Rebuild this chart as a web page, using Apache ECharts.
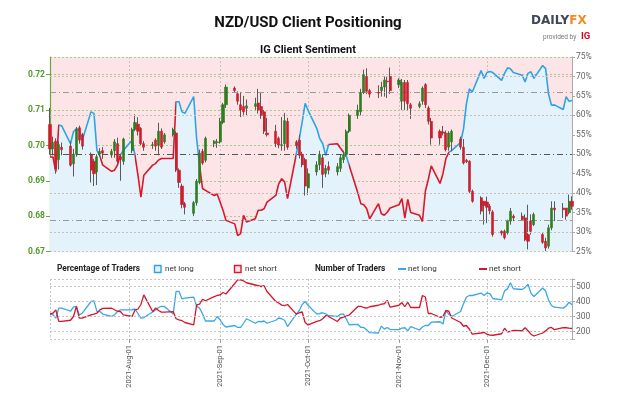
<!DOCTYPE html>
<html><head><meta charset="utf-8">
<script src="https://cdn.jsdelivr.net/npm/echarts@6/dist/echarts.min.js"></script>
<style>html,body{margin:0;padding:0;background:#fff}#c{width:624px;height:416px}</style>
</head><body><div id="c"></div>
<script>
// ---------------- DATA (one entry per trading day, Jul 5 – Dec 30 2021) ----------------
// candles: [open, close, low, high]
const candles = [
 // Jul
 [.7059,.6990,.6974,.7106],[.6990,.7008,.6972,.7025],[.7012,.6934,.6920,.7020],[.6960,.7002,.6932,.7012],[.6995,.6988,.6972,.7008],
 [.6998,.6944,.6940,.7010],[.6948,.6975,.6912,.6990],[.6975,.7045,.6968,.7052],[.7050,.7015,.7005,.7056],[.7030,.6998,.6988,.7035],
 [.6975,.6930,.6895,.6980],[.6955,.6920,.6885,.6962],[.6925,.6968,.6888,.6975],[.6975,.6983,.6968,.6992],[.6985,.6978,.6962,.6995],
 [.6973,.6983,.6965,.6990],[.6985,.7010,.6965,.7018],[.7005,.6955,.6946,.7022],[.6968,.6960,.6900,.6975],[.6955,.7018,.6945,.7022],
 // Aug
 [.6985,.7045,.6978,.7050],[.7045,.7065,.7040,.7088],[.7060,.7040,.7028,.7080],[.7048,.7005,.7000,.7052],[.7005,.6995,.6985,.7012],
 [.7000,.7002,.6990,.7010],[.7015,.6998,.6985,.7020],[.7000,.7040,.6972,.7064],[.7040,.6995,.6990,.7048],[.7010,.7030,.7005,.7035],
 [.7030,.7045,.7025,.7050],[.7035,.6930,.6925,.7040],[.6930,.6895,.6880,.6935],[.6885,.6833,.6822,.6892],[.6835,.6825,.6805,.6840],
 [.6808,.6838,.6800,.6843],[.6838,.6899,.6830,.6905],[.6895,.6978,.6890,.6988],[.6983,.6950,.6945,.6990],[.6958,.7020,.6952,.7025],
 [.7005,.7012,.6995,.7015],[.7008,.7010,.6993,.7018],
 // Sep
 [.7010,.7068,.7005,.7078],[.7065,.7115,.7060,.7120],[.7115,.7165,.7106,.7172],[.7162,.7155,.7150,.7167],[.7146,.7125,.7115,.7153],
 [.7115,.7100,.7080,.7150],[.7110,.7095,.7082,.7140],[.7105,.7112,.7085,.7130],[.7110,.7118,.7100,.7135],[.7120,.7100,.7090,.7160],
 [.7110,.7085,.7075,.7150],[.7095,.7040,.7032,.7100],[.7035,.7030,.7025,.7078],[.7040,.7005,.6995,.7058],[.7020,.7001,.6992,.7025],
 [.7000,.7002,.6985,.7080],[.7005,.7070,.6985,.7092],[.7068,.6995,.6988,.7078],[.7010,.7000,.6990,.7015],[.7015,.6972,.6963,.7030],
 [.6975,.6945,.6938,.6982],[.6960,.6885,.6858,.6965],
 // Oct
 [.6880,.6920,.6860,.6935],[.6925,.6945,.6915,.6955],[.6945,.6975,.6930,.6985],[.6965,.6918,.6880,.6975],[.6920,.6935,.6910,.6945],
 [.6940,.6930,.6918,.6955],[.6925,.6940,.6915,.6950],[.6935,.6965,.6925,.6974],[.6960,.6974,.6950,.6985],[.6974,.7040,.6968,.7045],
 [.7040,.7085,.7035,.7090],[.7085,.7100,.7075,.7115],[.7095,.7150,.7085,.7160],[.7150,.7200,.7145,.7214],[.7195,.7153,.7145,.7218],
 [.7155,.7145,.7135,.7160],[.7150,.7148,.7134,.7170],[.7155,.7165,.7138,.7180],[.7165,.7185,.7138,.7195],[.7182,.7180,.7134,.7195],
 [.7195,.7155,.7145,.7220],
 // Nov
 [.7172,.7185,.7162,.7190],[.7125,.7178,.7100,.7188],[.7178,.7125,.7100,.7185],[.7178,.7118,.7100,.7185],[.7115,.7105,.7075,.7120],
 [.7110,.7118,.7105,.7125],[.7125,.7162,.7115,.7167],[.7172,.7115,.7106,.7176],[.7106,.7068,.7059,.7112],[.7068,.7021,.7002,.7078],
 [.7040,.7021,.7002,.7045],[.7038,.7035,.7028,.7055],[.7035,.6988,.6983,.7042],[.6995,.7035,.6985,.7040],[.7010,.7040,.6983,.7045],
 [.7018,.6995,.6988,.7025],[.6995,.6950,.6946,.7018],[.6958,.6954,.6950,.6962],[.6955,.6870,.6865,.6958],[.6870,.6842,.6838,.6875],
 [.6852,.6814,.6805,.6856],[.6842,.6830,.6776,.6842],
 // Dec
 [.6840,.6825,.6780,.6855],[.6828,.6815,.6805,.6835],[.6812,.6748,.6742,.6817],[.6757,.6752,.6745,.6760],[.6757,.6739,.6734,.6762],
 [.6753,.6786,.6748,.6790],[.6786,.6814,.6776,.6823],[.6800,.6795,.6786,.6805],[.6800,.6790,.6786,.6810],[.6795,.6733,.6729,.6805],
 [.6748,.6729,.6706,.6832],[.6786,.6757,.6748,.6805],[.6776,.6805,.6772,.6810],[.6748,.6726,.6722,.6753],[.6729,.6710,.6701,.6739],
 [.6715,.6767,.6708,.6776],[.6767,.6823,.6760,.6842],[.6823,.6818,.6786,.6842],[.6823,.6818,.6795,.6837],[.6823,.6800,.6790,.6823],
 [.6810,.6842,.6805,.6861],[.6842,.6828,.6818,.6856]
];
// percentage of traders net long
const netLongPct = [
 49.3,49.3,45.5,57.5,57.3,52.7,55.8,56.6,56.2,53.6,60.9,60.5,51,49.5,47.2,45.6,45.9,47.2,49.8,51,
 53.6,49.6,44.6,39,44.6,47.2,47.6,48.5,48.9,48.9,48.9,63.5,63.5,60.9,60.5,64.8,54,47.2,41.2,40.7,39.4,39.8,
 37.7,35.6,33,32.1,29.1,29.6,34.3,32.6,33.4,35.6,35.6,36,37.7,39.4,42.4,43.7,42.9,38.6,50,54,58.3,63.1,
 61.3,56.6,54,52.7,49.7,52.5,52.7,51.6,50.6,49.7,47.2,40,37.3,37,36,33.4,37.3,34.7,34.3,35.1,36.2,
 37,38.6,33.6,38.4,35,34.3,32.7,40.5,43.5,47,42.5,45,48.9,50.5,51,53,56.5,63,66.8,66,71.5,69.5,
 71,71.3,71,69,70.8,72.2,72,71,70.3,68.6,70.8,71.2,69.5,72.8,72,65.5,62.6,62.7,61.5,64.8,63.6,63.8
];
// number of traders
const netLongCount = [
 316,312,289,356,356,335,362,367,311,322,400,404,333,333,316,300,311,333,344,344,
 345,350,320,289,293,330,344,360,367,367,316,467,467,418,422,429,370,356,318,270,270,300,
 278,247,230,240,227,227,255,285,255,267,265,270,255,275,290,285,275,233,316,340,380,400,
 375,316,320,325,318,305,300,314,318,285,245,248,227,227,210,192,190,236,216,227,213,
 213,222,225,204,233,210,230,240,240,262,265,250,338,315,300,333,385,430,440,440,456,440,
 456,452,420,411,471,484,525,485,480,493,516,456,433,490,470,410,373,362,356,370,395,378
];
const netShortCount = [
 316,322,344,267,267,275,300,367,289,289,311,316,322,344,354,355,345,335,333,311,
 300,344,350,380,444,333,356,340,329,329,333,285,278,272,260,244,378,382,415,405,433,440,
 444,460,450,520,544,544,537,525,510,505,500,505,467,400,390,376,372,380,316,325,330,260,
 244,268,272,285,305,300,267,290,295,302,310,367,367,360,356,365,375,382,385,408,362,
 375,393,365,395,360,360,440,430,320,320,295,300,340,335,290,260,235,240,215,182,190,195,
 182,176,175,185,222,198,200,208,205,225,205,182,170,190,204,222,227,212,226,225,222,220
];
const priceTicks = [0.67, 0.68, 0.69, 0.70, 0.71, 0.72];
const pctTicks = [25, 30, 35, 40, 45, 50, 55, 60, 65, 70, 75];
const countTicks = [200, 300, 400, 500];

// ---------------- calendar categories ----------------
const MONTHS = ['Jan','Feb','Mar','Apr','May','Jun','Jul','Aug','Sep','Oct','Nov','Dec'];
const categories = [], tradingIdx = [];
for (let t = Date.UTC(2021, 6, 5); t <= Date.UTC(2021, 11, 30); t += 864e5) {
  const d = new Date(t), i = categories.length;
  categories.push(d.getUTCFullYear() + '-' + MONTHS[d.getUTCMonth()] + '-' + String(d.getUTCDate()).padStart(2, '0'));
  const w = d.getUTCDay();
  if (w !== 0 && w !== 6) tradingIdx.push(i);
}
const wickData = candles.map((c, k) => [tradingIdx[k], (c[0] + c[1]) / 2, (c[0] + c[1]) / 2, c[2], c[3]]);
const bodyData = candles.map((c, k) => [tradingIdx[k], c[0], c[1], Math.min(c[0], c[1]), Math.max(c[0], c[1])]);
const pctData = netLongPct.map((v, k) => [tradingIdx[k], v]);
const longData = netLongCount.map((v, k) => [tradingIdx[k], v]);
const shortData = netShortCount.map((v, k) => [tradingIdx[k], v]);

const FONT = 'Roboto, sans-serif';
const BLUE = '#2ea4e6', RED = '#d8182b';
const monthStart = (i, v) => v.endsWith('-01');
const mlNone = { symbol: ['none', 'none'], silent: true, label: { show: false }, animation: false };

const chart = echarts.init(document.getElementById('c'), null, { renderer: 'canvas' });
chart.setOption({
  animation: false,
  backgroundColor: '#fff',
  textStyle: { fontFamily: FONT },
  grid: [
    { left: 50, right: 52, top: 57, height: 194.5, show: true, backgroundColor: '#fde5e7', borderWidth: 0, outerBoundsMode: 'none' },
    { left: 50, right: 52, top: 279, height: 60, show: false, outerBoundsMode: 'none' }
  ],
  xAxis: [
    { type: 'category', gridIndex: 0, data: categories, boundaryGap: false,
      axisLine: { show: false }, axisTick: { show: false }, axisLabel: { show: false },
      splitLine: { show: true, interval: monthStart, lineStyle: { color: '#c4c4c4', type: [2, 2], width: 1 } } },
    { type: 'category', gridIndex: 1, data: categories, boundaryGap: false,
      axisLine: { show: false },
      axisTick: { show: true, interval: monthStart, length: 4, lineStyle: { color: '#999' } },
      axisLabel: { interval: monthStart, rotate: 90, fontSize: 7.5, color: '#555', margin: 6, fontFamily: FONT },
      splitLine: { show: true, interval: (i, v) => i === 0 || v.endsWith('-01'), lineStyle: { color: '#c4c4c4', type: [2, 2], width: 1 } } }
  ],
  yAxis: [
    { type: 'value', gridIndex: 0, position: 'left', min: 0.67, max: 0.725, interval: 0.01,
      axisLine: { show: true, lineStyle: { color: '#6aaa3a', width: 1.2 } },
      axisTick: { show: true, length: 4, lineStyle: { color: '#6aaa3a' } },
      axisLabel: { color: '#4f9a2d', fontSize: 8.5, margin: 5, showMaxLabel: false, fontWeight: 'bold',
        formatter: v => priceTicks.some(t => Math.abs(t - v) < 1e-9) ? v.toFixed(2) : '' },
      splitLine: { show: true, lineStyle: { color: '#a9c98a', type: [2, 2], width: 1 } } },
    { type: 'value', gridIndex: 0, position: 'right', min: 25, max: 75, interval: 5,
      axisLine: { show: true, lineStyle: { color: '#aaa' } },
      axisTick: { show: true, length: 3, lineStyle: { color: '#aaa' } },
      axisLabel: { color: '#666', fontSize: 8.5, margin: 4, formatter: v => pctTicks.includes(v) ? v + '%' : '' },
      splitLine: { show: false } },
    { type: 'value', gridIndex: 1, position: 'right', min: 150, max: 550,
      axisLine: { show: true, lineStyle: { color: '#aaa' } },
      axisTick: { show: true, length: 3, lineStyle: { color: '#aaa' }, customValues: [150].concat(countTicks, [550]) },
      axisLabel: { color: '#666', fontSize: 8.5, margin: 4, customValues: countTicks },
      splitLine: { show: false } }
  ],
  visualMap: {
    type: 'piecewise', show: false, seriesIndex: 3, dimension: 0,
    pieces: [
      { lt: 3, color: RED }, { gte: 3, lt: 17, color: BLUE }, { gte: 17, lt: 24, color: RED },
      { gte: 24, lt: 28.5, color: BLUE }, { gte: 28.5, lt: 43, color: RED }, { gte: 43, lt: 50.5, color: BLUE },
      { gte: 50.5, lt: 84, color: RED }, { gte: 84, lt: 94.5, color: BLUE }, { gte: 94.5, lt: 100.2, color: RED },
      { gte: 100.2, lt: 101.8, color: BLUE }, { gte: 101.8, lt: 135.6, color: RED }, { gte: 135.6, color: BLUE }
    ]
  },
  series: [
    { name: 'wick', type: 'candlestick', xAxisIndex: 0, yAxisIndex: 0, z: 4, barWidth: 1,
      encode: { x: 0, y: [1, 2, 3, 4] }, data: wickData,
      itemStyle: { color: '#5a5a5a', color0: '#5a5a5a', borderColor: '#5a5a5a', borderColor0: '#5a5a5a', borderWidth: 1 } },
    { name: 'body', type: 'candlestick', xAxisIndex: 0, yAxisIndex: 0, z: 5, barWidth: 2.6,
      encode: { x: 0, y: [1, 2, 3, 4] }, data: bodyData,
      itemStyle: { color: '#2f7d1f', color0: '#cc1f2c', borderColor: '#2f7d1f', borderColor0: '#cc1f2c', borderWidth: 0.6 } },
    { name: 'area', type: 'line', xAxisIndex: 0, yAxisIndex: 1, z: 1, data: pctData, symbol: 'none',
      lineStyle: { width: 0 }, areaStyle: { color: '#e4f2fc', opacity: 1, origin: 'start' },
      markLine: Object.assign({}, mlNone, { data: [
        { yAxis: 70, lineStyle: { color: '#c9c0b4', type: [2, 2], width: 1 } },
        { yAxis: 60, lineStyle: { color: '#c9c0b4', type: [2, 2], width: 1 } },
        { yAxis: 40, lineStyle: { color: '#c9c0b4', type: [2, 2], width: 1 } },
        { yAxis: 30, lineStyle: { color: '#c9c0b4', type: [2, 2], width: 1 } },
        { yAxis: 66, lineStyle: { color: '#9a9a9a', type: [6, 3, 1, 3], width: 1 } },
        { yAxis: 33, lineStyle: { color: '#9a9a9a', type: [6, 3, 1, 3], width: 1 } },
        { yAxis: 50, lineStyle: { color: '#555', type: [6, 3, 1, 3], width: 1.2 } }
      ] }) },
    { name: 'pct', type: 'line', xAxisIndex: 0, yAxisIndex: 1, z: 3, data: pctData, symbol: 'none',
      lineStyle: { width: 1.6 } },
    { name: 'longCount', type: 'line', xAxisIndex: 1, yAxisIndex: 2, z: 3, data: longData, symbol: 'none',
      lineStyle: { width: 1.3, color: '#3aa8e8' }, itemStyle: { color: '#3aa8e8' },
      markLine: Object.assign({}, mlNone, { lineStyle: { color: '#c4c4c4', type: [2, 2], width: 1 },
        data: [150].concat(countTicks, [550]).map(v => ({ yAxis: v })) }) },
    { name: 'shortCount', type: 'line', xAxisIndex: 1, yAxisIndex: 2, z: 3, data: shortData, symbol: 'none',
      lineStyle: { width: 1.3, color: '#d5162a' }, itemStyle: { color: '#d5162a' } }
  ],
  graphic: [
    { type: 'text', x: 308, y: 23, style: { text: 'NZD/USD Client Positioning', fontSize: 15, fontWeight: 'bold', fontFamily: FONT, fill: '#111', align: 'center', verticalAlign: 'middle', textAlign: 'center', textVerticalAlign: 'middle' } },
    { type: 'text', x: 308, y: 50, style: { text: 'IG Client Sentiment', fontSize: 11, fontWeight: 'bold', fontFamily: FONT, fill: '#111', align: 'center', verticalAlign: 'middle', textAlign: 'center', textVerticalAlign: 'middle' } },
    { type: 'text', x: 531, y: 21, style: { text: '{a|DAILY}{b|FX}', rich: { a: { fontSize: 12, fontWeight: 'bold', fontFamily: 'DejaVu Sans', fill: '#3d4757' }, b: { fontSize: 12, fontWeight: 'bold', fontFamily: 'DejaVu Sans', fill: '#f28a1e' } }, verticalAlign: 'middle', textVerticalAlign: 'middle' } },
    { type: 'text', x: 543, y: 37, style: { text: 'provided by', fontSize: 6.5, fontFamily: FONT, fill: '#777', verticalAlign: 'middle', textVerticalAlign: 'middle' } },
    { type: 'text', x: 581, y: 37, style: { text: 'IG', fontSize: 9.5, fontWeight: 'bold', fontFamily: FONT, fill: '#e2001a', verticalAlign: 'middle', textVerticalAlign: 'middle' } },
    { type: 'text', x: 57, y: 269, style: { text: 'Percentage of Traders', fontSize: 8.3, fontWeight: 'bold', fontFamily: FONT, fill: '#222', verticalAlign: 'middle', textVerticalAlign: 'middle' } },
    { type: 'rect', shape: { x: 154.5, y: 265.5, width: 6.5, height: 7 }, style: { fill: '#e4f2fc', stroke: BLUE, lineWidth: 1.4 } },
    { type: 'text', x: 165, y: 269, style: { text: 'net long', fontSize: 8, fontFamily: FONT, fill: '#333', verticalAlign: 'middle', textVerticalAlign: 'middle' } },
    { type: 'rect', shape: { x: 234.5, y: 265.5, width: 6.5, height: 7 }, style: { fill: '#fde5e7', stroke: RED, lineWidth: 1.4 } },
    { type: 'text', x: 245, y: 269, style: { text: 'net short', fontSize: 8, fontFamily: FONT, fill: '#333', verticalAlign: 'middle', textVerticalAlign: 'middle' } },
    { type: 'text', x: 315, y: 269, style: { text: 'Number of Traders', fontSize: 8.3, fontWeight: 'bold', fontFamily: FONT, fill: '#222', verticalAlign: 'middle', textVerticalAlign: 'middle' } },
    { type: 'line', shape: { x1: 398, y1: 269, x2: 406, y2: 269 }, style: { stroke: '#3aa8e8', lineWidth: 2 } },
    { type: 'text', x: 408, y: 269, style: { text: 'net long', fontSize: 8, fontFamily: FONT, fill: '#333', verticalAlign: 'middle', textVerticalAlign: 'middle' } },
    { type: 'line', shape: { x1: 479, y1: 269, x2: 487, y2: 269 }, style: { stroke: '#d5162a', lineWidth: 2 } },
    { type: 'text', x: 489, y: 269, style: { text: 'net short', fontSize: 8, fontFamily: FONT, fill: '#333', verticalAlign: 'middle', textVerticalAlign: 'middle' } }
  ]
});
</script>
</body></html>
